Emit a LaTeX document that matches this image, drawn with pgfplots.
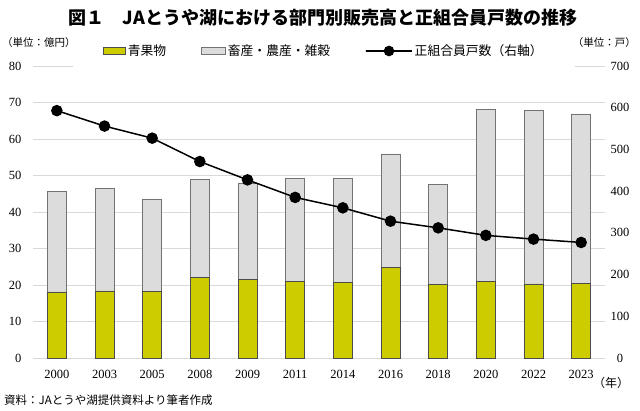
\documentclass[border=0pt]{standalone}
\usepackage{pgfplots}
\pgfplotsset{compat=1.18}
\usepackage{fontspec}
\setmainfont{Liberation Serif}
\newfontfamily\jp{Noto Sans CJK JP}
\definecolor{grn}{RGB}{204,204,0}
\definecolor{gry}{RGB}{220,220,220}
\definecolor{gridc}{RGB}{217,217,217}
\pgfplotsset{
  barleg/.style={legend image code/.code={\draw[##1] (0bp,-3.5bp) rectangle (#1,3.5bp);}},
  lineleg/.style={legend image code/.code={\draw[##1,mark repeat=2,mark phase=2] plot coordinates {(0bp,0bp) (13.5bp,0bp) (27bp,0bp)};}},
}
\begin{document}
\begin{tikzpicture}[x=1bp,y=1bp]
\path (0,0) rectangle (640,410);
\begin{axis}[
  at={(33bp,52bp)}, anchor=south west, scale only axis,
  width=572bp, height=292bp,
  xmin=-0.5, xmax=11.5, ymin=0, ymax=80, ytick={0,10,...,80},
  xtick={0,...,11},
  xticklabels={2000,2003,2005,2008,2009,2011,2014,2016,2018,2020,2022,2023},
  ybar stacked, bar width=19bp,
  axis line style={draw=none}, major tick length=0pt,
  ymajorgrids, grid style={gridc, line width=0.8bp},
  tick label style={font=\fontsize{12.5bp}{14bp}\selectfont},
  /pgf/number format/assume math mode=true,
  yticklabel style={xshift=-8bp},
  xticklabel style={yshift=-9bp},
  legend columns=3,
  legend cell align=left,
  legend style={at={(0.5,1)}, anchor=center, yshift=15bp, xshift=5bp,
    fill=white, draw=none, inner xsep=30bp, inner ysep=9bp,
    font=\jp\fontsize{12.8bp}{14bp}\selectfont,
    /tikz/every even column/.append style={column sep=33bp}},
]
\addplot[fill=grn, draw=black!70, line width=0.6bp, barleg=22bp]
  coordinates {(0,18.1) (1,18.4) (2,18.2) (3,22.1) (4,21.6) (5,21.0)
               (6,20.7) (7,24.8) (8,20.1) (9,20.9) (10,20.3) (11,20.5)};
\addlegendentry{青果物}
\addplot[fill=gry, draw=black!55, line width=0.6bp, barleg=24bp]
  coordinates {(0,27.5) (1,28.0) (2,25.4) (3,26.9) (4,26.4) (5,28.1)
               (6,28.4) (7,31.1) (8,27.5) (9,47.2) (10,47.6) (11,46.4)};
\addlegendentry{畜産・農産・雑穀}
\addlegendimage{black, line width=1.5bp, mark=*, mark size=4.5bp, lineleg}
\addlegendentry{正組合員戸数（右軸）}
\end{axis}
\begin{axis}[
  at={(33bp,52bp)}, anchor=south west, scale only axis,
  width=572bp, height=292bp,
  xmin=-0.5, xmax=11.5, ymin=0, ymax=700, ytick={0,100,...,700},
  xtick=\empty,
  axis y line*=right, axis x line=none,
  axis line style={draw=none}, major tick length=0pt,
  tick label style={font=\fontsize{12.5bp}{14bp}\selectfont},
  /pgf/number format/assume math mode=true,
  yticklabel style={anchor=center, xshift=15bp},
]
\addplot[black, line width=1.5bp, mark=*, mark size=5bp]
  coordinates {(0,593) (1,556) (2,527) (3,471) (4,427) (5,385)
               (6,360) (7,328) (8,312) (9,294) (10,285) (11,277)};
\end{axis}
\node[font=\jp\bfseries\fontsize{18bp}{20bp}\selectfont] at (323,392)
  {図１　JAとうや湖における部門別販売高と正組合員戸数の推移};
\node[font=\jp\fontsize{10.5bp}{12bp}\selectfont, anchor=west, inner sep=0] at (2,367) {（単位：億円）};
\node[font=\jp\fontsize{10.5bp}{12bp}\selectfont, anchor=east, inner sep=0] at (636,367) {（単位：戸）};
\node[font=\jp\fontsize{12bp}{14bp}\selectfont] at (611,27) {（年）};
\node[font=\jp\fontsize{11.5bp}{13bp}\selectfont, anchor=west, inner sep=0] at (4,10)
  {資料：JAとうや湖提供資料より筆者作成};
\end{tikzpicture}
\end{document}
